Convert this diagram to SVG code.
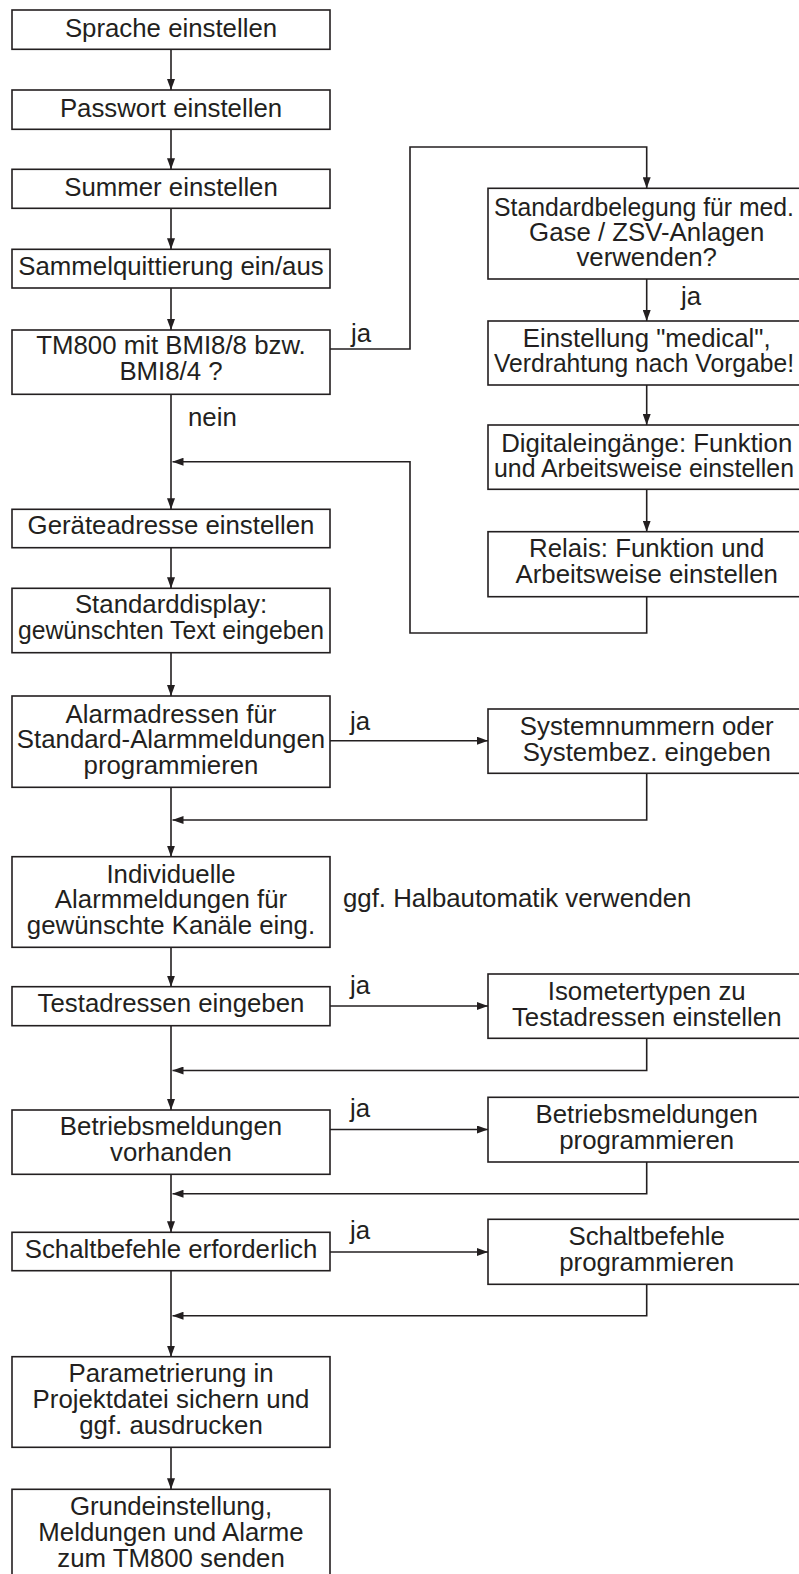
<svg xmlns="http://www.w3.org/2000/svg" width="799" height="1574" viewBox="0 0 799 1574">
<defs>
<style>
.b{fill:#fff;stroke:#231f20;stroke-width:1.6}
.t{font-family:"Liberation Sans",Arial,sans-serif;font-size:25.8px;fill:#231f20;text-anchor:middle}
.l{font-family:"Liberation Sans",Arial,sans-serif;font-size:25.8px;fill:#231f20}
.c{fill:none;stroke:#231f20;stroke-width:1.6}
</style>
<marker id="a" viewBox="0 0 11 8" refX="11" refY="4" markerWidth="11" markerHeight="8" markerUnits="userSpaceOnUse" orient="auto">
<path d="M0,0 L11,4 L0,8 Z" fill="#231f20"/>
</marker>
</defs>
<g id="connectors">
<path class="c" marker-end="url(#a)" d="M171,49.3 V90"/>
<path class="c" marker-end="url(#a)" d="M171,129.3 V169.3"/>
<path class="c" marker-end="url(#a)" d="M171,208.3 V249.3"/>
<path class="c" marker-end="url(#a)" d="M171,288 V330"/>
<path class="c" marker-end="url(#a)" d="M171,394.3 V509.3"/>
<path class="c" marker-end="url(#a)" d="M171,547.7 V588.3"/>
<path class="c" marker-end="url(#a)" d="M171,652.7 V696"/>
<path class="c" marker-end="url(#a)" d="M171,787.3 V856.7"/>
<path class="c" marker-end="url(#a)" d="M171,947.3 V986.7"/>
<path class="c" marker-end="url(#a)" d="M171,1025.7 V1110"/>
<path class="c" marker-end="url(#a)" d="M171,1174.3 V1232.3"/>
<path class="c" marker-end="url(#a)" d="M171,1270.7 V1356.7"/>
<path class="c" marker-end="url(#a)" d="M171,1447.3 V1489.3"/>
<path class="c" marker-end="url(#a)" d="M330,349 H410 V147 H646.7 V188.3"/>
<path class="c" marker-end="url(#a)" d="M646.7,279 V321"/>
<path class="c" marker-end="url(#a)" d="M646.7,385 V425"/>
<path class="c" marker-end="url(#a)" d="M646.7,489.3 V531.7"/>
<path class="c" marker-end="url(#a)" d="M646.7,596.7 V633 H410 V461.7 H172.5"/>
<path class="c" marker-end="url(#a)" d="M330,740.7 H488"/>
<path class="c" marker-end="url(#a)" d="M646.7,773.3 V820 H172.5"/>
<path class="c" marker-end="url(#a)" d="M330,1006 H488"/>
<path class="c" marker-end="url(#a)" d="M646.7,1038.3 V1070.5 H172.5"/>
<path class="c" marker-end="url(#a)" d="M330,1129.5 H488"/>
<path class="c" marker-end="url(#a)" d="M646.7,1162 V1193.7 H172.5"/>
<path class="c" marker-end="url(#a)" d="M330,1252 H488"/>
<path class="c" marker-end="url(#a)" d="M646.7,1284.3 V1315.7 H172.5"/>
<text class="l" x="351" y="341.7">ja</text>
<text class="l" x="188" y="425.7">nein</text>
<text class="l" x="681" y="305">ja</text>
<text class="l" x="350" y="730">ja</text>
<text class="l" x="350" y="994">ja</text>
<text class="l" x="350" y="1117">ja</text>
<text class="l" x="350" y="1239.3">ja</text>
</g>
<g id="n1"><rect class="b" x="12" y="10" width="318" height="39.3"/><text class="t" x="171" y="36.7">Sprache einstellen</text></g>
<g id="n2"><rect class="b" x="12" y="90" width="318" height="39.3"/><text class="t" x="171" y="116.7">Passwort einstellen</text></g>
<g id="n3"><rect class="b" x="12" y="169.3" width="318" height="39"/><text class="t" x="171" y="195.5">Summer einstellen</text></g>
<g id="n4"><rect class="b" x="12" y="249.3" width="318" height="38.7"/><text class="t" x="171" y="275.3">Sammelquittierung ein/aus</text></g>
<g id="n5"><rect class="b" x="12" y="330" width="318" height="64.3"/><text class="t" x="171" y="354.3">TM800 mit BMI8/8 bzw.</text><text class="t" x="171" y="380">BMI8/4 ?</text></g>
<g id="n6"><rect class="b" x="12" y="509.3" width="318" height="38.4"/><text class="t" x="171" y="534.3">Geräteadresse einstellen</text></g>
<g id="n7"><rect class="b" x="12" y="588.3" width="318" height="64.4"/><text class="t" x="171" y="613.3">Standarddisplay:</text><text class="t" x="171" y="639" textLength="306" lengthAdjust="spacingAndGlyphs">gewünschten Text eingeben</text></g>
<g id="n8"><rect class="b" x="12" y="696" width="318" height="91.3"/><text class="t" x="171" y="722.7">Alarmadressen für</text><text class="t" x="171" y="748.3">Standard-Alarmmeldungen</text><text class="t" x="171" y="774">programmieren</text></g>
<g id="n9"><rect class="b" x="12" y="856.7" width="318" height="90.6"/><text class="t" x="171" y="882.5">Individuelle</text><text class="t" x="171" y="908.2">Alarmmeldungen für</text><text class="t" x="171" y="934">gewünschte Kanäle eing.</text></g>
<g id="n9note"><text class="l" x="343" y="907">ggf. Halbautomatik verwenden</text></g>
<g id="n10"><rect class="b" x="12" y="986.7" width="318" height="39"/><text class="t" x="171" y="1012.3">Testadressen eingeben</text></g>
<g id="n11"><rect class="b" x="12" y="1110" width="318" height="64.3"/><text class="t" x="171" y="1135">Betriebsmeldungen</text><text class="t" x="171" y="1160.7">vorhanden</text></g>
<g id="n12"><rect class="b" x="12" y="1232.3" width="318" height="38.4"/><text class="t" x="171" y="1257.7">Schaltbefehle erforderlich</text></g>
<g id="n13"><rect class="b" x="12" y="1356.7" width="318" height="90.6"/><text class="t" x="171" y="1382.3">Parametrierung in</text><text class="t" x="171" y="1408">Projektdatei sichern und</text><text class="t" x="171" y="1433.6">ggf. ausdrucken</text></g>
<g id="n14"><rect class="b" x="12" y="1489.3" width="318" height="100"/><text class="t" x="171" y="1515">Grundeinstellung,</text><text class="t" x="171" y="1541">Meldungen und Alarme</text><text class="t" x="171" y="1566.7">zum TM800 senden</text></g>
<g id="rA"><rect class="b" x="488" y="188.3" width="330" height="90.7"/><text class="l" x="494" y="215.5" textLength="300" lengthAdjust="spacingAndGlyphs">Standardbelegung für med.</text><text class="t" x="646.7" y="240.5">Gase / ZSV-Anlagen</text><text class="t" x="646.7" y="265.5">verwenden?</text></g>
<g id="rB"><rect class="b" x="488" y="321" width="330" height="64"/><text class="t" x="646.7" y="346.5">Einstellung "medical",</text><text class="l" x="494" y="372.2" textLength="300" lengthAdjust="spacingAndGlyphs">Verdrahtung nach Vorgabe!</text></g>
<g id="rC"><rect class="b" x="488" y="425" width="330" height="64.3"/><text class="t" x="646.7" y="451.5">Digitaleingänge: Funktion</text><text class="l" x="494" y="477.2" textLength="300" lengthAdjust="spacingAndGlyphs">und Arbeitsweise einstellen</text></g>
<g id="rD"><rect class="b" x="488" y="531.7" width="330" height="65"/><text class="t" x="646.7" y="557">Relais: Funktion und</text><text class="t" x="646.7" y="582.7">Arbeitsweise einstellen</text></g>
<g id="rE"><rect class="b" x="488" y="709" width="330" height="64.3"/><text class="t" x="646.7" y="735">Systemnummern oder</text><text class="t" x="646.7" y="761">Systembez. eingeben</text></g>
<g id="rF"><rect class="b" x="488" y="974" width="330" height="64.3"/><text class="t" x="646.7" y="999.8">Isometertypen zu</text><text class="t" x="646.7" y="1025.5">Testadressen einstellen</text></g>
<g id="rG"><rect class="b" x="488" y="1097.3" width="330" height="64.7"/><text class="t" x="646.7" y="1123.2">Betriebsmeldungen</text><text class="t" x="646.7" y="1148.8">programmieren</text></g>
<g id="rH"><rect class="b" x="488" y="1219.3" width="330" height="65"/><text class="t" x="646.7" y="1245.3">Schaltbefehle</text><text class="t" x="646.7" y="1271">programmieren</text></g>
</svg>
